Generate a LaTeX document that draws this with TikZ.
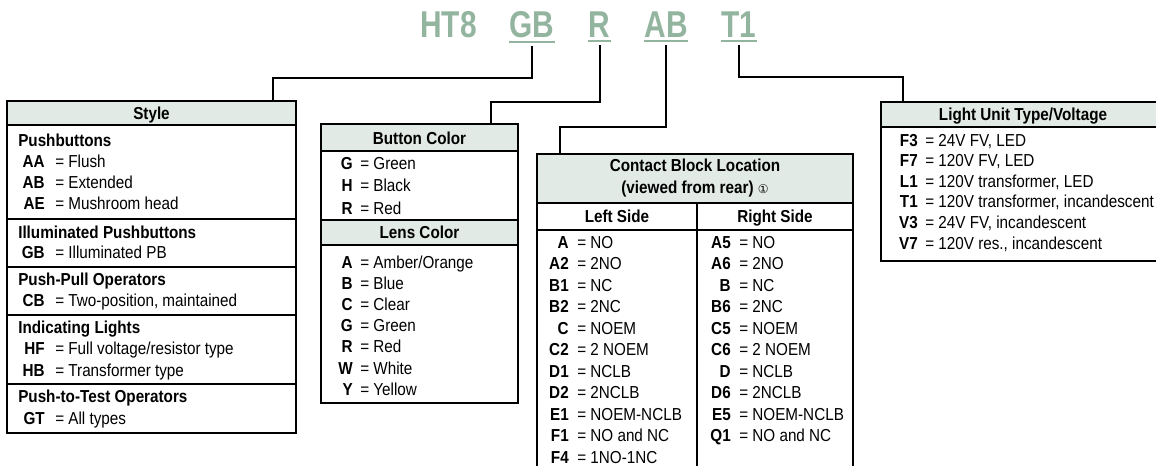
\documentclass[tikz,border=0pt]{standalone}
\usepackage{fontspec}
\setmainfont{Liberation Sans}[FakeStretch=0.88]
\newfontfamily\codefont{Liberation Sans}[FakeStretch=0.8]
\newfontfamily\circfont{DejaVu Sans}
\usepackage{xcolor}
\usepackage{tikz}
\usetikzlibrary{calc}

\definecolor{codegreen}{HTML}{93B5A0}
\definecolor{headfill}{HTML}{E2EAE5}

\tikzset{
  boxline/.style={draw=black, line width=1.1pt},
  headrow/.style={boxline, fill=headfill},
  conn/.style={draw=black, line width=1.5pt},
  codepart/.style={font=\codefont\bfseries\fontsize{28}{28}\selectfont, text=codegreen, anchor=base, inner sep=0pt},
  uline/.style={draw=codegreen, line width=1.5pt},
  title/.style={font=\bfseries\fontsize{13}{15}\selectfont, anchor=base, inner sep=0pt},
  sect/.style={font=\bfseries\fontsize{13}{15}\selectfont, anchor=base west, inner sep=0pt},
  key/.style={font=\bfseries\fontsize{13}{15}\selectfont, anchor=base east, inner sep=0pt},
  val/.style={font=\fontsize{13}{15}\selectfont, anchor=base west, inner sep=0pt}
}

\begin{document}
\begin{tikzpicture}[x=0.75pt,y=-0.75pt]
        \useasboundingbox (0,0) rectangle (1156,465);
        % catalog number
        \node[codepart] (ht) at (448.5,37) {HT8};
        \node[codepart] (gb) at (532,37) {GB};
        \node[codepart] (r) at (599.5,37) {R};
        \node[codepart] (ab) at (666,37) {AB};
        \node[codepart] (t1) at (739,37) {T1};
        \foreach \n in {gb,r,ab,t1}
          \draw[uline] ([yshift=-3pt]\n.south west) -- ([yshift=-3pt]\n.south east);
        % box entry points
        \coordinate (sty-in) at (273,101);
        \coordinate (btn-in) at (491,124);
        \coordinate (cbl-in) at (560,154);
        \coordinate (lu-in) at (903,102);
        \draw[conn] ([yshift=-6pt]gb.south) -- ++(0,32) -| (sty-in);
        \draw[conn] ([yshift=-6pt]r.south) -- ++(0,57) -| (btn-in);
        \draw[conn] ([yshift=-6pt]ab.south) -- ++(0,82) -| (cbl-in);
        \draw[conn] ([yshift=-6pt]t1.south) -- ++(0,32) -| (lu-in);

        % Style
        \draw[headrow] (7,101) rectangle (296,125);
        \draw[boxline] (7,101) rectangle (296,433);
        \foreach \y in {219,267,315,384}
          \draw[boxline] (7,\y) -- (296,\y);
        \node[title] (sty-t) at (151.5,119) {Style};
        \node[sect] (sty-s1) at (18,146) {Pushbuttons};
        \foreach \k/\v [count=\i] in {AA/Flush, AB/Extended, AE/Mushroom head} {
          \node[key] (pb-k\i) at (45,{167+(\i-1)*21}) {\k};
          \node[val] (pb-v\i) at (55,{167+(\i-1)*21}) {= \v};
        }
        \node[sect] (sty-s2) at (18,238) {Illuminated Pushbuttons};
        \node[key] (ipb-k) at (45,258) {GB};
        \node[val] (ipb-v) at (55,258) {= Illuminated PB};
        \node[sect] (sty-s3) at (18,285) {Push-Pull Operators};
        \node[key] (pp-k) at (45,306) {CB};
        \node[val] (pp-v) at (55,306) {= Two-position, maintained};
        \node[sect] (sty-s4) at (18,333) {Indicating Lights};
        \node[key] (il-k1) at (45,354) {HF};
        \node[val] (il-v1) at (55,354) {= Full voltage/resistor type};
        \node[key] (il-k2) at (45,376) {HB};
        \node[val] (il-v2) at (55,376) {= Transformer type};
        \node[sect] (sty-s5) at (18,402) {Push-to-Test Operators};
        \node[key] (ptt-k) at (45,424) {GT};
        \node[val] (ptt-v) at (55,424) {= All types};

        % Button / lens colour
        \draw[headrow] (321,124) rectangle (518,151);
        \draw[headrow] (321,220) rectangle (518,245);
        \draw[boxline] (321,124) rectangle (518,403);
        \node[title] (btn-t) at (419.5,144) {Button Color};
        \foreach \k/\v [count=\i] in {G/Green, H/Black, R/Red} {
          \node[key] (btn-k\i) at (353,{169+(\i-1)*22.5}) {\k};
          \node[val] (btn-v\i) at (360,{169+(\i-1)*22.5}) {= \v};
        }
        \node[title] (lens-t) at (419.5,238) {Lens Color};
        \foreach \k/\v [count=\i] in {A/{Amber/Orange}, B/Blue, C/Clear, G/Green, R/Red, W/White, Y/Yellow} {
          \node[key] (lens-k\i) at (353,{268+(\i-1)*21.2}) {\k};
          \node[val] (lens-v\i) at (360,{268+(\i-1)*21.2}) {= \v};
        }

        % Contact block location
        \draw[headrow] (537,154) rectangle (853,203);
        \draw[boxline] (537,154) rectangle (853,470);
        \draw[boxline] (537,230) -- (853,230);
        \draw[boxline] (697,203) -- (697,470);
        \node[title] (cbl-t1) at (695,171) {Contact Block Location};
        \node[title] (cbl-t2) at (695,193) {(viewed from rear) {\circfont\fontsize{9}{9}\selectfont\mdseries ①}};
        \node[title] (cbl-l) at (617,222) {Left Side};
        \node[title] (cbl-r) at (775,222) {Right Side};
        \foreach \k/\v [count=\i] in {A/NO, A2/2NO, B1/NC, B2/2NC, C/NOEM, C2/2 NOEM, D1/NCLB, D2/2NCLB, E1/NOEM-NCLB, F1/NO and NC, F4/1NO-1NC} {
          \node[key] (cl-k\i) at (569,{248+(\i-1)*21.5}) {\k};
          \node[val] (cl-v\i) at (577,{248+(\i-1)*21.5}) {= \v};
        }
        \foreach \k/\v [count=\i] in {A5/NO, A6/2NO, B/NC, B6/2NC, C5/NOEM, C6/2 NOEM, D/NCLB, D6/2NCLB, E5/NOEM-NCLB, Q1/NO and NC} {
          \node[key] (cr-k\i) at (731,{248+(\i-1)*21.5}) {\k};
          \node[val] (cr-v\i) at (739,{248+(\i-1)*21.5}) {= \v};
        }

        % Light unit
        \draw[headrow] (881,102) rectangle (1165,127);
        \draw[boxline] (881,102) rectangle (1165,261);
        \node[title] (lu-t) at (1023,120) {Light Unit Type/Voltage};
        \foreach \k/\v [count=\i] in {F3/{24V FV, LED}, F7/{120V FV, LED}, L1/{120V transformer, LED}, T1/{120V transformer, incandescent}, V3/{24V FV, incandescent}, V7/{120V res., incandescent}} {
          \node[key] (lu-k\i) at (918,{146+(\i-1)*20.6}) {\k};
          \node[val] (lu-v\i) at (925,{146+(\i-1)*20.6}) {= \v};
        }
\end{tikzpicture}
\end{document}
